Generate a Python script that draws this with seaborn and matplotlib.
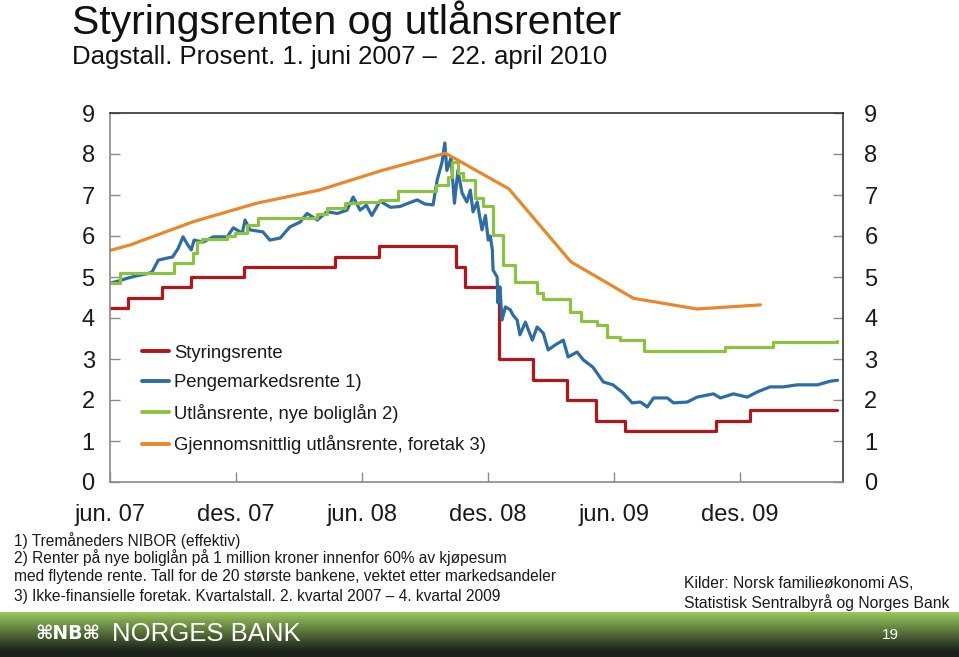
import numpy as np
import pandas as pd
import matplotlib
matplotlib.use("Agg")
import matplotlib.pyplot as plt
import matplotlib.transforms as mtransforms
import seaborn as sns

# ---------------- data ----------------
start_date = "2007-06-01"

# Styringsrente (policy rate), step changes
red_dates = ["2007-06-01", "2007-06-27", "2007-08-15", "2007-09-26", "2007-12-12",
             "2008-04-23", "2008-06-25", "2008-10-15", "2008-10-29", "2008-12-17",
             "2009-02-04", "2009-03-25", "2009-05-06", "2009-06-17", "2009-10-28",
             "2009-12-16", "2010-04-22"]
red_vals = [4.25, 4.50, 4.75, 5.00, 5.25, 5.50, 5.75, 5.25, 4.75, 3.00,
            2.50, 2.00, 1.50, 1.25, 1.50, 1.75, 1.75]

# Pengemarkedsrente (3m NIBOR), days since 1 June 2007
blue_days = [0, 12, 25, 39, 54, 61, 70, 80, 91, 99, 106, 113, 118, 122, 135, 150,
             170, 179, 192, 196, 203, 222, 232, 247, 261, 276, 286, 301, 315, 330,
             344, 353, 363, 372, 380, 392, 407, 421, 433, 446, 457, 469, 475, 482,
             486, 489, 495, 500, 505, 511, 518, 523, 527, 533, 540, 545, 549, 552,
             555, 556, 562, 563, 566, 569, 574, 581, 585, 591, 595, 603, 613, 620,
             629, 636, 646, 658, 665, 678, 687, 701, 716, 730, 745, 758, 770, 780,
             789, 809, 818, 838, 852, 876, 886, 905, 925, 940, 958, 977, 998, 1027,
             1046, 1056]
blue_vals = [4.85, 4.90, 4.97, 5.03, 5.08, 5.12, 5.41, 5.45, 5.49, 5.70, 5.98, 5.78,
             5.66, 5.90, 5.85, 5.98, 5.98, 6.20, 6.07, 6.39, 6.15, 6.10, 5.90, 5.95,
             6.22, 6.34, 6.55, 6.39, 6.59, 6.55, 6.63, 6.95, 6.63, 6.75, 6.50, 6.85,
             6.70, 6.72, 6.80, 6.88, 6.78, 6.76, 7.37, 7.80, 8.27, 7.60, 7.90, 6.80,
             7.60, 7.05, 6.83, 7.12, 6.59, 6.83, 6.15, 6.50, 5.90, 6.00, 5.66, 5.17,
             5.00, 4.37, 4.76, 3.95, 4.27, 4.20, 4.07, 3.95, 3.59, 3.90, 3.46, 3.78,
             3.63, 3.22, 3.34, 3.46, 3.05, 3.17, 2.98, 2.80, 2.44, 2.37, 2.17, 1.93,
             1.95, 1.83, 2.05, 2.05, 1.93, 1.95, 2.07, 2.15, 2.05, 2.15, 2.07, 2.20,
             2.32, 2.32, 2.37, 2.37, 2.46, 2.48]

# Utlånsrente, nye boliglån (steps), days since 1 June 2007
green_days = [0, 15, 93, 121, 126, 134, 170, 181, 199, 215, 301, 315, 341, 363, 392,
              418, 473, 491, 497, 505, 513, 530, 542, 556, 571, 588, 620, 629, 668,
              683, 707, 722, 741, 775, 893, 963, 1056]
green_vals = [4.85, 5.10, 5.34, 5.58, 5.85, 5.92, 6.00, 6.07, 6.27, 6.43, 6.53, 6.68,
              6.80, 6.82, 6.88, 7.10, 7.24, 7.44, 7.80, 7.53, 7.37, 6.93, 6.73, 6.02,
              5.29, 4.87, 4.60, 4.46, 4.15, 3.93, 3.83, 3.53, 3.46, 3.20, 3.29, 3.41,
              3.44]

# Gjennomsnittlig utlånsrente, foretak (quarterly)
orange_dates = ["2007-03-31", "2007-06-30", "2007-09-30", "2007-12-31", "2008-03-31",
                "2008-06-30", "2008-09-30", "2008-12-31", "2009-03-31", "2009-06-30",
                "2009-09-30", "2009-12-31"]
orange_vals = [5.37, 5.78, 6.35, 6.80, 7.12, 7.60, 8.02, 7.15, 5.37, 4.48, 4.22, 4.32]

series_labels = ["Styringsrente", "Pengemarkedsrente 1)",
                 "Utlånsrente, nye boliglån 2)", "Gjennomsnittlig utlånsrente, foretak 3)"]
series_colors = ["#B2151B", "#2E6DA4", "#8DC23F", "#E8882A"]

tick_dates = ["2007-06-01", "2007-12-01", "2008-06-01", "2008-12-01", "2009-06-01", "2009-12-01"]
tick_labels = ["jun. 07", "des. 07", "jun. 08", "des. 08", "jun. 09", "des. 09"]
y_ticks = list(range(0, 10))

title = "Styringsrenten og utlånsrenter"
subtitle = "Dagstall. Prosent. 1. juni 2007 \u2013  22. april 2010"
footnotes = ["1) Tremåneders NIBOR (effektiv)",
             "2) Renter på nye boliglån på 1 million kroner innenfor 60% av kjøpesum",
             "med flytende rente. Tall for de 20 største bankene, vektet etter markedsandeler",
             "3) Ikke-finansielle foretak. Kvartalstall. 2. kvartal 2007 \u2013 4. kvartal 2009"]
sources = ["Kilder: Norsk familieøkonomi AS,", "Statistisk Sentralbyrå og Norges Bank"]
page_number = "19"

# ---------------- frames ----------------
t0 = pd.Timestamp(start_date)
red_df = pd.DataFrame({"date": pd.to_datetime(red_dates), "v": red_vals})
blue_df = pd.DataFrame({"date": t0 + pd.to_timedelta(blue_days, unit="D"), "v": blue_vals})
green_df = pd.DataFrame({"date": t0 + pd.to_timedelta(green_days, unit="D"), "v": green_vals})
orange_df = pd.DataFrame({"date": pd.to_datetime(orange_dates), "v": orange_vals})

sns.set_theme(style="white")
plt.rcParams["font.family"] = ["Liberation Sans", "DejaVu Sans"]

W, H = 959, 657
fig = plt.figure(figsize=(W / 100, H / 100), dpi=100)
ax = fig.add_axes([110 / W, 1 - 482 / H, (843 - 110) / W, (482 - 113) / H])

lw = 2.3
sns.lineplot(data=red_df, x="date", y="v", ax=ax, color=series_colors[0], lw=lw,
             drawstyle="steps-post", label=series_labels[0])
sns.lineplot(data=blue_df, x="date", y="v", ax=ax, color=series_colors[1], lw=lw,
             label=series_labels[1])
sns.lineplot(data=green_df, x="date", y="v", ax=ax, color=series_colors[2], lw=lw,
             drawstyle="steps-post", label=series_labels[2])
sns.lineplot(data=orange_df, x="date", y="v", ax=ax, color=series_colors[3], lw=lw,
             label=series_labels[3])

ax.set_xlim(pd.Timestamp("2007-06-01"), pd.Timestamp("2010-04-30"))
ax.set_ylim(0, 9)
ax.set_xlabel("")
ax.set_ylabel("")
ax.set_xticks(pd.to_datetime(tick_dates))
ax.set_xticklabels(tick_labels)
ax.set_yticks(y_ticks)
ax.set_yticklabels([str(v) for v in y_ticks])
ax.tick_params(axis="y", which="both", direction="in", length=7, width=1, color="#8a8a8a",
               left=True, right=True, labelleft=True, labelright=True, labelsize=17,
               labelcolor="#1a1a1a", pad=11)
# right labels slightly further out
offset = mtransforms.ScaledTranslation(6 / 100, 0, fig.dpi_scale_trans)
for t in ax.yaxis.get_major_ticks():
    t.label2.set_transform(t.label2.get_transform() + offset)

ax.tick_params(axis="x", direction="in", length=7, width=1, color="#8a8a8a",
               bottom=True, labelsize=17, pad=16, labelcolor="#1a1a1a")
for side in ["left", "bottom"]:
    ax.spines[side].set_color("#8a8a8a")
    ax.spines[side].set_linewidth(1.2)
for side in ["top", "right"]:
    ax.spines[side].set_color("#333333")
    ax.spines[side].set_linewidth(1.2)

leg = ax.legend(loc="upper left", bbox_to_anchor=(0.043, 0.372), frameon=False,
                fontsize=13.3, handlelength=1.5, handletextpad=0.25, labelspacing=0.68,
                borderpad=0, borderaxespad=0)
for t in leg.get_texts():
    t.set_color("#1a1a1a")
for l in leg.get_lines():
    l.set_linewidth(2.8)

# titles
fig.text(72 / W, 1 - 34 / H, title, fontsize=29.5, va="baseline", ha="left", color="#111111")
fig.text(72 / W, 1 - 57 / H, subtitle, fontsize=18.5, va="center", ha="left", color="#111111")

# footnotes
for y, txt in zip([541, 558, 577, 596], footnotes):
    fig.text(14 / W, 1 - y / H, txt, fontsize=11.2, va="center", ha="left", color="#1a1a1a")
for y, txt in zip([583, 603], sources):
    fig.text(684 / W, 1 - y / H, txt, fontsize=11.3, va="center", ha="left", color="#1a1a1a")

# bottom banner
bar = fig.add_axes([0, 0, 1, 45 / H])
grad = np.linspace(0, 1, 64).reshape(-1, 1)
top_c = np.array([0.60, 0.78, 0.36])
bot_c = np.array([0.10, 0.13, 0.10])
mix = np.clip(grad * 1.15, 0, 1)
img = (top_c[None, None, :] * (1 - mix[..., None]) + bot_c[None, None, :] * mix[..., None])
bar.imshow(img, aspect="auto", extent=[0, 1, 0, 1], origin="upper")
bar.set_xlim(0, 1)
bar.set_ylim(0, 1)
bar.axis("off")
bar.text(35 / W, 0.52, "\u2318NB\u2318", fontsize=13.5, color="white", va="center", ha="left",
         family=["DejaVu Sans"], fontweight="bold")
bar.text(112 / W, 0.52, "NORGES BANK", fontsize=18.5, color="white", va="center", ha="left")
bar.text(890 / W, 0.48, page_number, fontsize=11, color="white", va="center", ha="center")

fig.savefig("out.png", dpi=100)
